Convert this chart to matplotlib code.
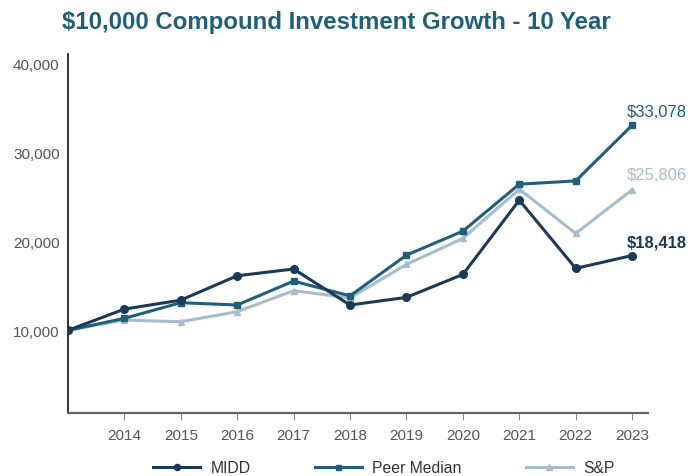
import numpy as np
import matplotlib.pyplot as plt

plt.rcParams['font.family'] = ['Liberation Sans', 'DejaVu Sans']

years = [2013, 2014, 2015, 2016, 2017, 2018, 2019, 2020, 2021, 2022, 2023]
midd = [10000, 12390, 13400, 16140, 16900, 12850, 13710, 16290, 24640, 16970, 18418]
peer = [10000, 11350, 13110, 12850, 15540, 13880, 18460, 21160, 26440, 26810, 33078]
snp = [10000, 11160, 10970, 12100, 14460, 13650, 17420, 20340, 25880, 20900, 25806]

c_midd = "#1b3a57"
c_peer = "#1f5f7c"
c_snp = "#a7bccd"

fig = plt.figure(figsize=(6.93, 4.77), dpi=100)
ax = fig.add_axes([0.098, 0.132, 0.837, 0.753])

ax.plot(years, snp, color=c_snp, lw=2.2, marker="^", ms=5, label="S&P", zorder=2)
ax.plot(years, peer, color=c_peer, lw=2.2, marker="s", ms=4.5, label="Peer Median", zorder=3)
ax.plot(years, midd, color=c_midd, lw=2.2, marker="o", ms=5.5, label="MIDD", zorder=4)

# end labels
ax.annotate("$33,078", (years[-1], peer[-1]), xytext=(-4, 10), textcoords="offset points",
            ha="left", va="center", color=c_peer, fontsize=12)
ax.annotate("$25,806", (years[-1], snp[-1]), xytext=(-4, 11), textcoords="offset points",
            ha="left", va="center", color=c_snp, fontsize=12)
ax.annotate("$18,418", (years[-1], midd[-1]), xytext=(-4, 10), textcoords="offset points",
            ha="left", va="center", color=c_midd, fontsize=12, fontweight="bold")

ax.set_xlim(2013, 2023.28)
ax.set_ylim(700, 41100)
ax.set_xticks(years[1:])
ax.set_yticks([10000, 20000, 30000, 40000])
ax.set_yticklabels(["10,000", "20,000", "30,000", "40,000"])

for s in ["top", "right"]:
    ax.spines[s].set_visible(False)
ax.spines["left"].set_color("#222222")
ax.spines["left"].set_linewidth(1.3)
ax.spines["bottom"].set_color("#666666")
ax.spines["bottom"].set_linewidth(1.6)

ax.tick_params(axis="y", length=0, pad=6, labelsize=11, labelcolor="#555555")
ax.tick_params(axis="x", length=5, color="#888888", pad=6, labelsize=11, labelcolor="#555555")

fig.text(0.485, 0.953, "$10,000 Compound Investment Growth - 10 Year", ha="center", va="center",
         fontsize=17.3, fontweight="bold", color="#1f5f7c")

h, l = ax.get_legend_handles_labels()
order = [2, 1, 0]
fig.legend([h[i] for i in order], [l[i] for i in order], loc="center left",
           bbox_to_anchor=(0.221, 0.017), borderpad=0, borderaxespad=0,
           ncol=3, frameon=False, fontsize=11.3, handlelength=3.0, handletextpad=0.65,
           columnspacing=4.1, labelcolor="#333333", markerscale=0.8)

plt.savefig("out.png", dpi=100)
